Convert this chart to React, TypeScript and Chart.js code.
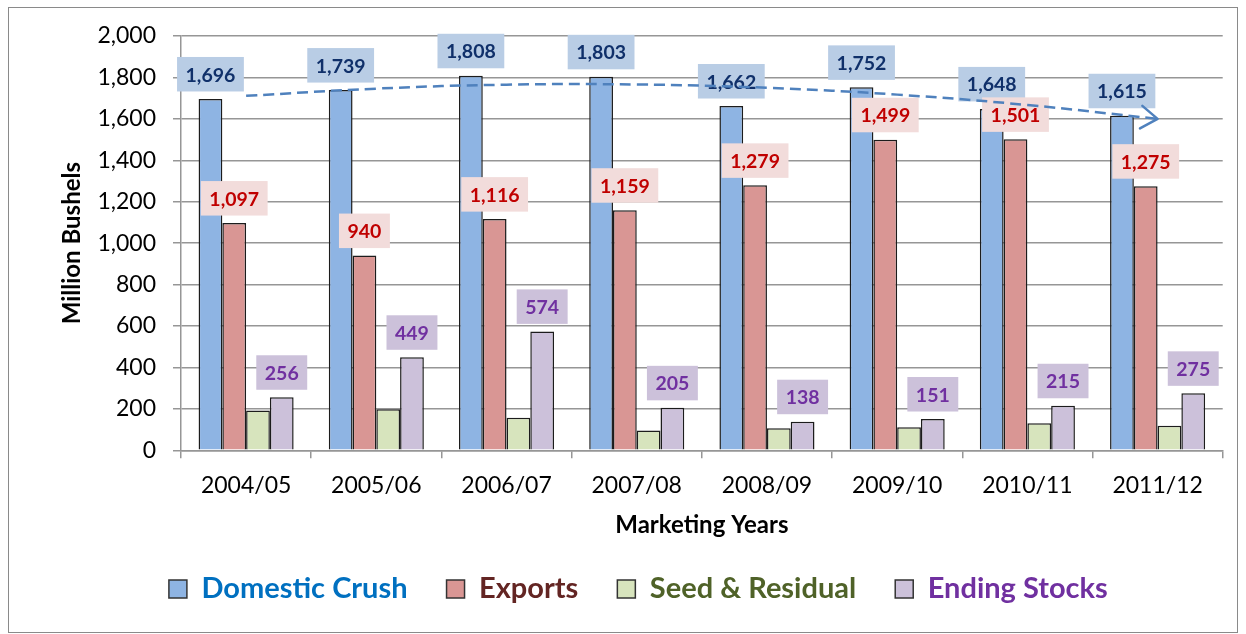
import React, { useEffect, useRef } from 'react';
import { Chart, registerables } from 'chart.js';

Chart.register(...registerables);

const categories = ['2004/05', '2005/06', '2006/07', '2007/08', '2008/09', '2009/10', '2010/11', '2011/12'];
const domesticCrush = [1696, 1739, 1808, 1803, 1662, 1752, 1648, 1615];
const exportsData = [1097, 940, 1116, 1159, 1279, 1499, 1501, 1275];
const seedResidual = [192, 198, 157, 95, 106, 111, 130, 119];
const endingStocks = [256, 449, 574, 205, 138, 151, 215, 275];
// dashed trend curve of Domestic Crush at each category
const crushTrend = [1711, 1746, 1765, 1766, 1750, 1717, 1667, 1600];

const seriesNames = ['Domestic Crush', 'Exports', 'Seed & Residual', 'Ending Stocks'];
const fillColors = ['#8EB4E3', '#D99694', '#D7E4BD', '#CCC1DA'];
const legendTextColors = ['#0070C0', '#632523', '#4F6228', '#7030A0'];
const labelBgColors = ['#B9CDE5', '#F2DCDB', '', '#CCC1DA'];
const labelTextColors = ['#10306A', '#C00000', '', '#7030A0'];
const labeledSeries = [0, 1, 3];

const FONT = 'Lato, "Open Sans", sans-serif';
const GRID = '#969696';
const TREND = '#4F81BD';

const labelPlugin = {
  id: 'barValueLabels',
  beforeDatasetDraw(chart: any, args: any) {
    if (args.index !== 4) return;
    const ctx = chart.ctx;
    ctx.save();
    ctx.font = `bold 19.5px ${FONT}`;
    ctx.textAlign = 'center';
    ctx.textBaseline = 'middle';
    labeledSeries.forEach((di) => {
      const meta = chart.getDatasetMeta(di);
      meta.data.forEach((el: any, i: number) => {
        const v = chart.data.datasets[di].data[i] as number;
        const text = v.toLocaleString('en-US');
        const w = ctx.measureText(text).width + 17;
        const h = 34.5;
        const bottom = el.y - 7.5;
        ctx.fillStyle = labelBgColors[di];
        ctx.fillRect(el.x - w / 2, bottom - h, w, h);
        ctx.fillStyle = labelTextColors[di];
        ctx.fillText(text, el.x, bottom - h / 2 + 1);
      });
    });
    ctx.restore();
  },
};

const arrowPlugin = {
  id: 'trendArrow',
  afterDatasetsDraw(chart: any) {
    const meta = chart.getDatasetMeta(4);
    const pts = meta.data;
    if (!pts || pts.length < 2) return;
    const tip = pts[pts.length - 1];
    const prev = pts[pts.length - 2];
    const ang = Math.atan2(tip.y - prev.y, tip.x - prev.x);
    const len = 20;
    const spread = 0.6;
    const ctx = chart.ctx;
    ctx.save();
    ctx.strokeStyle = TREND;
    ctx.lineWidth = 2.5;
    ctx.lineCap = 'round';
    ctx.lineJoin = 'round';
    ctx.beginPath();
    ctx.moveTo(tip.x - len * Math.cos(ang - spread), tip.y - len * Math.sin(ang - spread));
    ctx.lineTo(tip.x, tip.y);
    ctx.lineTo(tip.x - len * Math.cos(ang + spread), tip.y - len * Math.sin(ang + spread));
    ctx.stroke();
    ctx.restore();
  },
};

export default function App() {
  const ref = useRef<HTMLCanvasElement>(null);

  useEffect(() => {
    if (!ref.current) return;
    Chart.defaults.font.family = FONT;
    const barSets = [domesticCrush, exportsData, seedResidual, endingStocks].map((data, i) => ({
      type: 'bar' as const,
      label: seriesNames[i],
      data,
      backgroundColor: fillColors[i],
      borderColor: '#1C1C1C',
      borderWidth: 1.5,
      categoryPercentage: 0.73,
      barPercentage: 1.0,
      order: 1,
    }));
    const chart = new Chart(ref.current, {
      type: 'bar',
      data: {
        labels: categories,
        datasets: [
          ...barSets,
          {
            type: 'line' as const,
            label: 'Trend',
            data: crushTrend,
            borderColor: TREND,
            borderWidth: 2.5,
            borderDash: [11, 6],
            pointRadius: 0,
            fill: false,
            tension: 0.4,
            order: 0,
          },
        ] as any,
      },
      options: {
        responsive: false,
        devicePixelRatio: 1,
        animation: false,
        layout: { padding: { top: 28, left: 45, right: 14.3, bottom: 18.5 } },
        plugins: {
          tooltip: { enabled: false },
          legend: {
            position: 'bottom',
            labels: {
              boxWidth: 18,
              boxHeight: 18,
              padding: 39,
              font: { size: 29, weight: 'bold' },
              generateLabels: (c: any) =>
                Chart.defaults.plugins.legend.labels
                  .generateLabels(c)
                  .filter((l: any) => l.datasetIndex < 4)
                  .map((l: any) => ({ ...l, fontColor: legendTextColors[l.datasetIndex], lineWidth: 1.5, strokeStyle: '#333' })),
            },
          },
        },
        scales: {
          x: {
            grid: { drawOnChartArea: false, drawTicks: true, tickLength: 8, color: GRID, lineWidth: 1.5, offset: true },
            border: { color: GRID, width: 1.5 },
            ticks: { font: { size: 23 }, color: '#000', padding: 13, maxRotation: 0, autoSkip: false },
            title: {
              display: true,
              text: 'Marketing Years',
              font: { size: 24, weight: 'bold' },
              color: '#000',
              padding: { top: 0, bottom: -3.9 },
            },
            afterFit: (s: any) => {
              s.height = 85.2;
              s.paddingLeft = 0;
              s.paddingRight = 0;
            },
          },
          y: {
            min: 0,
            max: 2000,
            ticks: {
              stepSize: 200,
              font: { size: 23 },
              color: '#000',
              padding: 17,
              callback: (v: any) => Number(v).toLocaleString('en-US'),
            },
            grid: { color: GRID, lineWidth: 1.5, tickLength: 8 },
            border: { color: GRID, width: 1.5 },
            title: {
              display: true,
              text: 'Million Bushels',
              font: { size: 24, weight: 'bold' },
              color: '#000',
              padding: { top: 4, bottom: 0 },
            },
            afterFit: (s: any) => {
              s.width = 127;
              s.paddingTop = 0;
              s.paddingBottom = 0;
            },
          },
        },
      } as any,
      plugins: [labelPlugin, arrowPlugin],
    });
    return () => chart.destroy();
  }, []);

  return (
    <div
      style={{
        position: 'fixed',
        left: 8,
        top: 7,
        width: 1230,
        height: 626,
        boxSizing: 'border-box',
        border: '1px solid #8A8A8A',
        background: '#fff',
      }}
    >
      <canvas ref={ref} width={1228} height={624} style={{ display: 'block', width: 1228, height: 624 }} />
    </div>
  );
}
